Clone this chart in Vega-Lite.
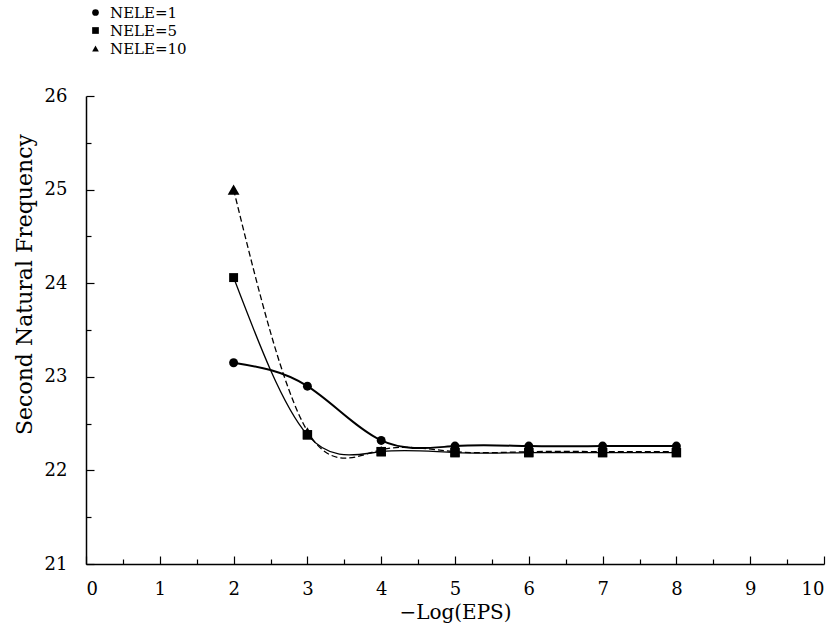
{
  "$schema": "https://vega.github.io/schema/vega-lite/v6.json",
  "autosize": "none",
  "width": 738,
  "height": 468,
  "padding": {"left": 86, "top": 96, "right": 15, "bottom": 65},
  "background": "white",
  "config": {
    "view": {"stroke": null},
    "font": "DejaVu Serif",
    "axis": {
      "grid": false,
      "domainColor": "black",
      "domainWidth": 1.5,
      "tickColor": "black",
      "tickWidth": 1.2,
      "labelColor": "black",
      "labelFont": "DejaVu Serif",
      "labelFontSize": 18,
      "titleColor": "black",
      "titleFont": "DejaVu Serif",
      "titleFontWeight": "normal",
      "titleFontSize": 20
    },
    "legend": {
      "labelFont": "DejaVu Serif",
      "labelFontSize": 15,
      "labelColor": "black"
    }
  },
  "data": {
    "values": [
      {"eps": 2, "freq": 23.15, "series": "NELE=1"},
      {"eps": 3, "freq": 22.90, "series": "NELE=1"},
      {"eps": 4, "freq": 22.32, "series": "NELE=1"},
      {"eps": 5, "freq": 22.26, "series": "NELE=1"},
      {"eps": 6, "freq": 22.26, "series": "NELE=1"},
      {"eps": 7, "freq": 22.26, "series": "NELE=1"},
      {"eps": 8, "freq": 22.26, "series": "NELE=1"},
      {"eps": 2, "freq": 24.06, "series": "NELE=5"},
      {"eps": 3, "freq": 22.38, "series": "NELE=5"},
      {"eps": 4, "freq": 22.20, "series": "NELE=5"},
      {"eps": 5, "freq": 22.19, "series": "NELE=5"},
      {"eps": 6, "freq": 22.19, "series": "NELE=5"},
      {"eps": 7, "freq": 22.19, "series": "NELE=5"},
      {"eps": 8, "freq": 22.19, "series": "NELE=5"},
      {"eps": 2, "freq": 25.00, "series": "NELE=10"},
      {"eps": 3, "freq": 22.42, "series": "NELE=10"},
      {"eps": 4, "freq": 22.22, "series": "NELE=10"},
      {"eps": 5, "freq": 22.20, "series": "NELE=10"},
      {"eps": 6, "freq": 22.20, "series": "NELE=10"},
      {"eps": 7, "freq": 22.20, "series": "NELE=10"},
      {"eps": 8, "freq": 22.20, "series": "NELE=10"}
    ]
  },
  "encoding": {
    "x": {
      "field": "eps", "type": "quantitative",
      "scale": {"domain": [0, 10], "nice": false, "zero": false},
      "axis": {
        "title": "−Log(EPS)",
        "values": [0,0.5,1,1.5,2,2.5,3,3.5,4,4.5,5,5.5,6,6.5,7,7.5,8,8.5,9,9.5,10],
        "labelExpr": "datum.value % 1 === 0 ? format(datum.value, 'd') : ''",
        "tickSize": {"condition": {"test": "datum.value % 1 !== 0", "value": -5}, "value": -8},
        "labelPadding": 24,
        "titlePadding": 4
      }
    },
    "y": {
      "field": "freq", "type": "quantitative",
      "scale": {"domain": [21, 26], "nice": false, "zero": false},
      "axis": {
        "title": "Second Natural Frequency",
        "values": [21,21.5,22,22.5,23,23.5,24,24.5,25,25.5,26],
        "labelExpr": "datum.value % 1 === 0 ? format(datum.value, 'd') : ''",
        "tickSize": {"condition": {"test": "datum.value % 1 !== 0", "value": -5}, "value": -8},
        "labelPadding": 27,
        "titlePadding": 8,
        "titleFontSize": 22,
        "titleY": 188
      }
    }
  },
  "layer": [
    {
      "transform": [{"filter": "datum.series === 'NELE=1'"}],
      "mark": {"type": "line", "interpolate": "natural", "color": "black", "strokeWidth": 2}
    },
    {
      "transform": [{"filter": "datum.series === 'NELE=5'"}],
      "mark": {"type": "line", "interpolate": "natural", "color": "black", "strokeWidth": 1.3}
    },
    {
      "transform": [{"filter": "datum.series === 'NELE=10'"}],
      "mark": {"type": "line", "interpolate": "natural", "color": "black", "strokeWidth": 1.3, "strokeDash": [6, 3]}
    },
    {
      "mark": {"type": "point", "filled": true, "color": "black", "opacity": 1, "size": 80},
      "encoding": {
        "shape": {
          "field": "series", "type": "nominal",
          "scale": {"domain": ["NELE=1", "NELE=5", "NELE=10"], "range": ["circle", "square", "triangle-up"]},
          "legend": {
            "title": null,
            "orient": "none",
            "legendX": 2,
            "legendY": -91,
            "labelFont": "DejaVu Serif",
            "labelFontSize": 15,
            "labelColor": "black",
            "symbolFillColor": "black",
            "symbolStrokeColor": "black",
            "symbolSize": 45,
            "rowPadding": 2,
            "labelOffset": 7
          }
        }
      }
    },
    {
      "transform": [{"filter": "datum.series === 'NELE=5' && datum.eps >= 3"}],
      "mark": {"type": "point", "shape": "square", "filled": true, "color": "black", "opacity": 1, "size": 90}
    },
    {
      "transform": [{"filter": "datum.series === 'NELE=10' && datum.eps === 2"}],
      "mark": {"type": "point", "shape": "triangle-up", "filled": true, "color": "black", "opacity": 1, "size": 140}
    }
  ]
}
